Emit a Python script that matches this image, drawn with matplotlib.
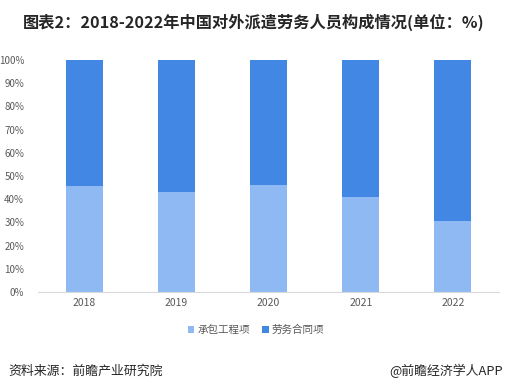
import matplotlib
matplotlib.use("Agg")
import matplotlib.pyplot as plt
import numpy as np

plt.rcParams['font.family'] = ['Noto Sans CJK SC', 'DejaVu Sans']

years = ['2018', '2019', '2020', '2021', '2022']
contract = [45.9, 43.2, 46.1, 40.9, 30.6]
labor = [100 - v for v in contract]
series_names = ['承包工程项', '劳务合同项']
yticks = [0, 10, 20, 30, 40, 50, 60, 70, 80, 90, 100]

c_light = '#8FB9F3'
c_dark = '#4287E3'

fig = plt.figure(figsize=(5.08, 3.92), dpi=100)
ax = fig.add_axes([38/508, 1 - 292/392, 461/508, 232/392])

x = np.arange(len(years))
ax.bar(x, contract, width=0.4, color=c_light, label=series_names[0])
ax.bar(x, labor, width=0.4, bottom=contract, color=c_dark, label=series_names[1])

ax.set_xlim(-0.5, len(years) - 0.5)
ax.set_ylim(0, 100)
ax.set_yticks(yticks)
ax.set_yticklabels([f'{v}%' for v in yticks], fontsize=7, color='#595959')
ax.set_xticks(x)
ax.set_xticklabels(years, fontsize=7.5, color='#595959')
ax.tick_params(axis='both', length=0, pad=4)
ax.tick_params(axis='y', pad=10)
for s in ['top', 'right', 'left']:
    ax.spines[s].set_visible(False)
ax.spines['bottom'].set_color('#D9D9D9')

fig.text(0.5, 1 - 22/392, '图表2：2018-2022年中国对外派遣劳务人员构成情况(单位：%)',
         ha='center', va='center', fontsize=11.7, fontweight='bold', color='#262626')

fig.legend(loc='center', bbox_to_anchor=(256/508, 1 - 330/392), ncol=2, frameon=False,
           fontsize=7.6, handlelength=0.6, handleheight=0.6, handletextpad=0.3,
           columnspacing=1.2, labelcolor='#595959')

fig.text(8/508, 1 - 371/392, '资料来源：前瞻产业研究院', ha='left', va='center',
         fontsize=9.3, color='#262626')
fig.text(503/508, 1 - 371/392, '@前瞻经济学人APP', ha='right', va='center',
         fontsize=9.3, color='#262626')

fig.savefig('out.png', dpi=100)
